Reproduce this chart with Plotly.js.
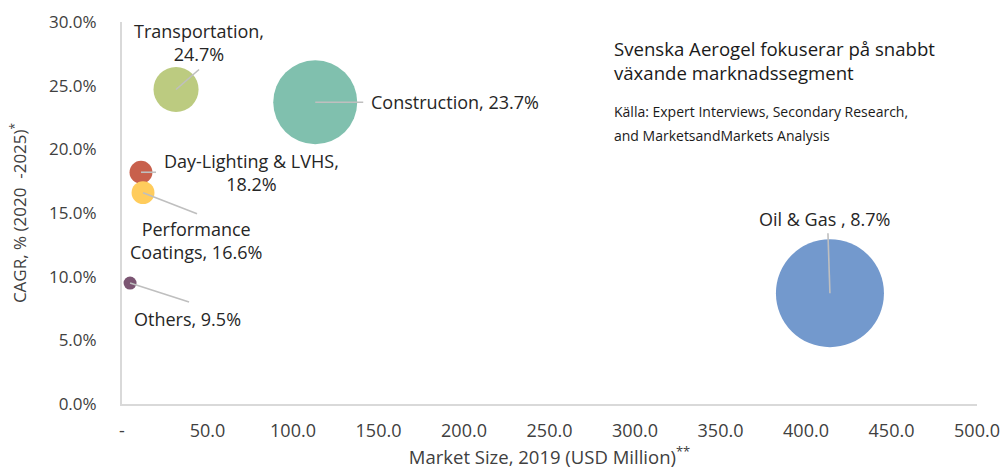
<!DOCTYPE html>
<html>
<head>
<meta charset="utf-8">
<script src="https://cdn.plot.ly/plotly-3.0.1.min.js"></script>
<style>html,body{margin:0;padding:0;background:#fff;}#chart{width:1000px;height:471px;}</style>
</head>
<body>
<div id="chart"></div>
<script>
// Data
const segments = ["Transportation", "Construction", "Day-Lighting & LVHS", "Performance Coatings", "Others", "Oil & Gas"];
const marketSize = [31.6, 113.0, 11.1, 12.3, 4.7, 414.0];      // USD Million, 2019
const cagr = [0.247, 0.237, 0.182, 0.166, 0.095, 0.087];         // 2020-2025
const bubbleSize = [17.4, 60.5, 4.5, 4.5, 1.45, 100];            // relative bubble size
const labelText = ["Transportation,<br>24.7%", "Construction, 23.7%", "Day-Lighting & LVHS,<br>18.2%", "Performance<br>Coatings, 16.6%", "Others, 9.5%", "Oil & Gas , 8.7%"];
const colors = ["#bccb80", "#80c0ae", "#c8604c", "#ffcc5c", "#7b5572", "#7399cd"];
const xTickVals = [0, 50, 100, 150, 200, 250, 300, 350, 400, 450, 500];
const xTickText = ["-", "50.0", "100.0", "150.0", "200.0", "250.0", "300.0", "350.0", "400.0", "450.0", "500.0"];
const yTickVals = [0, 0.05, 0.10, 0.15, 0.20, 0.25, 0.30];

// Label/leader layout (pixel offsets from bubble centre)
const leaderDx = [23, 48, 15, 54, 59, -2];
const leaderDy = [-20, 0, 0, 21, 19, -60];
const labelDx = [23, 54, 111, 53, 57, -5];
const labelDy = [-47, 0, 0, 48, 36, -74];
const labelAnchor = ["center", "left", "center", "center", "center", "center"];

const FONT = "'Open Sans', sans-serif";
const W = 1000, H = 471, M = {l: 122, r: 23, t: 22, b: 67};
const X_RANGE = [0, 500], Y_RANGE = [0, 0.30];
const pxPerX = (W - M.l - M.r) / (X_RANGE[1] - X_RANGE[0]);
const pxPerY = (H - M.t - M.b) / (Y_RANGE[1] - Y_RANGE[0]);
const maxSize = Math.max(...bubbleSize);

const bubbles = {
  type: "scatter",
  mode: "markers",
  x: marketSize,
  y: cagr,
  text: segments,
  hoverinfo: "text",
  marker: {
    size: bubbleSize,
    sizemode: "area",
    sizeref: 2 * maxSize / (108 * 108),
    color: colors,
    opacity: 1,
    line: {width: 0}
  }
};

// leader lines from each bubble centre
const lx = [], ly = [];
for (let i = 0; i < segments.length; i++) {
  lx.push(marketSize[i], marketSize[i] + leaderDx[i] / pxPerX, null);
  ly.push(cagr[i], cagr[i] - leaderDy[i] / pxPerY, null);
}
const leaders = {
  type: "scatter", mode: "lines", x: lx, y: ly, hoverinfo: "skip",
  line: {color: "#bfbfbf", width: 1.6}, connectgaps: false
};

const annotations = [];
for (let i = 0; i < segments.length; i++) {
  annotations.push({
    x: marketSize[i], y: cagr[i], xref: "x", yref: "y",
    text: labelText[i], showarrow: false,
    xanchor: labelAnchor[i], yanchor: "middle", align: "center",
    xshift: labelDx[i], yshift: -labelDy[i],
    font: {family: FONT, size: 18, color: "#262626"}
  });
}
annotations.push({
  xref: "paper", yref: "paper", x: 0.573, y: 0.9005, xanchor: "left", yanchor: "middle", align: "left",
  text: "Svenska Aerogel fokuserar på snabbt<br>växande marknadssegment", showarrow: false,
  font: {family: FONT, size: 18.6, color: "#1a1a1a"}
});
annotations.push({
  xref: "paper", yref: "paper", x: 0.573, y: (404 - 112) / 382, xanchor: "left", yanchor: "middle", align: "left",
  text: "Källa: Expert Interviews, Secondary Research,", showarrow: false,
  font: {family: FONT, size: 14, color: "#1a1a1a"}
});
annotations.push({
  xref: "paper", yref: "paper", x: 0.573, y: (404 - 135) / 382, xanchor: "left", yanchor: "middle", align: "left",
  text: "and MarketsandMarkets Analysis", showarrow: false,
  font: {family: FONT, size: 14, color: "#1a1a1a"}
});

const layout = {
  width: W, height: H,
  margin: M,
  paper_bgcolor: "#ffffff", plot_bgcolor: "#ffffff",
  showlegend: false,
  font: {family: FONT, size: 17, color: "#404040"},
  xaxis: {
    range: X_RANGE, tickvals: xTickVals, ticktext: xTickText,
    showgrid: false, zeroline: false, showline: true, linecolor: "#d9d9d9", linewidth: 2,
    ticks: "", ticklabelstandoff: 9, ticklabeloverflow: "allow",
    tickfont: {family: FONT, size: 18, color: "#404040"},
    title: {text: "Market Size, 2019 (USD Million)<sup>**</sup>", font: {family: FONT, size: 18.5, color: "#404040"}, standoff: 10}
  },
  yaxis: {
    range: Y_RANGE, tickvals: yTickVals, tickformat: ".1%",
    showgrid: false, zeroline: false, showline: true, linecolor: "#d9d9d9", linewidth: 2,
    ticks: "", ticklabelstandoff: 20,
    tickfont: {family: FONT, size: 17, color: "#404040"},
    title: {text: "CAGR, % (2020  -2025)<sup>*</sup>", font: {family: FONT, size: 17, color: "#404040"}, standoff: 18}
  },
  annotations: annotations,
  hovermode: false
};

Plotly.newPlot("chart", [bubbles, leaders], layout, {displayModeBar: false, staticPlot: true});
</script>
</body>
</html>
